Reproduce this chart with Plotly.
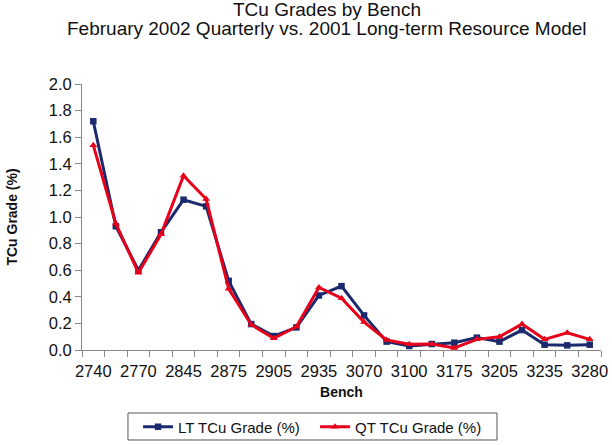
import plotly.graph_objects as go

benches = ["2740", "2755", "2770", "2830", "2845", "2860", "2875", "2890", "2905", "2920",
           "2935", "2950", "3070", "3085", "3100", "3160", "3175", "3190", "3205", "3220",
           "3235", "3265", "3280"]
lt_grade = [1.72, 0.93, 0.60, 0.885, 1.13, 1.08, 0.52, 0.195, 0.105, 0.17,
            0.41, 0.48, 0.26, 0.063, 0.03, 0.045, 0.055, 0.093, 0.063, 0.15,
            0.04, 0.035, 0.04]
qt_grade = [1.54, 0.95, 0.58, 0.87, 1.31, 1.135, 0.46, 0.19, 0.088, 0.175,
            0.47, 0.39, 0.21, 0.075, 0.043, 0.045, 0.015, 0.08, 0.10, 0.195,
            0.08, 0.13, 0.08]
title_lines = ["TCu Grades by Bench", "February 2002 Quarterly vs. 2001 Long-term Resource Model"]

idx = list(range(len(benches)))
label_idx = idx[::2]
label_txt = [benches[i] for i in label_idx]
bounds = [i - 0.5 for i in idx] + [idx[-1] + 0.5]

FONT = "Liberation Sans, Arial, sans-serif"

fig = go.Figure()
fig.add_trace(go.Scatter(x=idx, y=lt_grade, mode="lines+markers", name="LT TCu Grade (%)",
                         line=dict(color="#1A2A6C", width=3),
                         marker=dict(symbol="square", size=6.5, color="#1A2A6C")))
fig.add_trace(go.Scatter(x=idx, y=qt_grade, mode="lines+markers", name="QT TCu Grade (%)",
                         line=dict(color="#E8001A", width=3),
                         marker=dict(symbol="triangle-up", size=7, color="#E8001A")))

axis_font = dict(family=FONT, size=16.5, color="#111111")
fig.update_layout(
    width=612, height=445,
    margin=dict(l=82, r=11, t=84, b=95),
    paper_bgcolor="white", plot_bgcolor="white",
    font=dict(family=FONT, color="#111111"),
    xaxis=dict(range=[-0.5, len(benches) - 0.5], tickmode="array", tickvals=label_idx,
               ticktext=label_txt, ticks="outside", ticklen=6, tickcolor="rgba(0,0,0,0)",
               showgrid=False, zeroline=False, automargin=False,
               showline=True, linecolor="#888888", linewidth=1, tickfont=axis_font,
               minor=dict(tickmode="array", tickvals=bounds, ticks="outside", ticklen=6,
                          tickcolor="#888888", showgrid=False),
               title=dict(text="<b>Bench</b>", font=dict(family=FONT, size=14),
                          standoff=8)),
    yaxis=dict(range=[0, 2.0], dtick=0.2, tickformat=".1f", ticks="outside", ticklen=6,
               tickcolor="#888888", showgrid=False, zeroline=False, showline=True,
               automargin=False,
               linecolor="#888888", linewidth=1, tickfont=axis_font,
               title=dict(text="<b>TCu Grade (%)</b>", font=dict(family=FONT, size=14),
                          standoff=27)),
    showlegend=True,
    legend=dict(orientation="h", x=0.108, xanchor="left", yref="container", y=0.0404,
                yanchor="middle", borderwidth=0, bgcolor="rgba(0,0,0,0)",
                entrywidth=132, entrywidthmode="pixels",
                font=dict(family=FONT, size=15, color="#111111")),
    shapes=[dict(type="rect", xref="paper", yref="paper",
                 x0=0.0886, x1=0.7996, y0=-0.3383, y1=-0.2368,
                 line=dict(color="#555555", width=1), fillcolor="rgba(0,0,0,0)", layer="below")],
    annotations=[
        dict(text=title_lines[0], xref="paper", yref="paper", x=0.472, y=1.328,
             xanchor="center", yanchor="top", showarrow=False,
             font=dict(family=FONT, size=19, color="#111111")),
        dict(text=title_lines[1], xref="paper", yref="paper", x=0.472, y=1.257,
             xanchor="center", yanchor="top", showarrow=False,
             font=dict(family=FONT, size=19, color="#111111")),
    ],
)

fig.write_html("out.html", config={"displayModeBar": False},
               post_script="document.body.style.margin='0';")
